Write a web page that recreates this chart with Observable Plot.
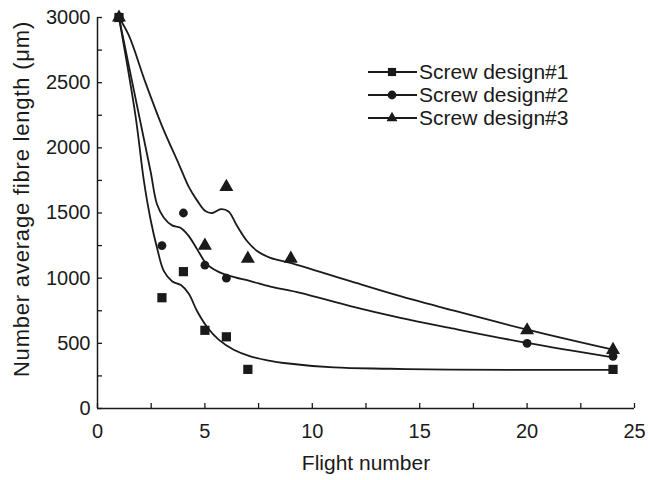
<!DOCTYPE html>
<html>
<head>
<meta charset="utf-8">
<script src="https://cdn.jsdelivr.net/npm/d3@7"></script>
<script src="https://cdn.jsdelivr.net/npm/@observablehq/plot@0.6"></script>
<style>
  body { margin: 0; background: #fff; }
  #chart { position: relative; width: 648px; height: 480px; font-family: "Liberation Sans", Arial, Helvetica, sans-serif; }
  #legend { position: absolute; left: 0; top: 0; pointer-events: none; }
</style>
</head>
<body>
<div id="chart"></div>
<script>
// ---- measured points ----
const flight1 = [1, 3, 4, 5, 6, 7, 24];
const design1 = [3000, 850, 1050, 600, 550, 300, 300];
const flight2 = [1, 3, 4, 5, 6, 20, 24];
const design2 = [3000, 1250, 1500, 1100, 1000, 500, 400];
const flight3 = [1, 5, 6, 7, 9, 20, 24];
const design3 = [3000, 1250, 1700, 1150, 1150, 600, 450];

// ---- fitted curves ----
const fitX1 = [1, 1.77, 2.16, 2.47, 2.77, 3.09, 3.47, 3.9, 4.25, 4.64, 5.1, 5.64, 6.34, 7.12, 8.05, 8.67, 11, 13.6, 16.4, 24];
const fitY1 = [3000, 2246, 1746, 1450, 1233, 1054, 977, 945, 880, 746, 625, 528, 451, 400, 365, 349, 315, 305, 298, 297];
const fitX2 = [1, 1.92, 2.47, 2.77, 3.09, 3.47, 3.86, 4.25, 4.64, 5.1, 5.57, 6.19, 7.12, 8.05, 9.44, 11.77, 14.1, 16.4, 20, 24];
const fitY2 = [3000, 2260, 1820, 1567, 1464, 1405, 1387, 1323, 1221, 1105, 1054, 1015, 977, 935, 887, 785, 695, 618, 503, 392];
const fitX3 = [1, 1.46, 2.23, 3.0, 3.8, 4.25, 4.64, 5.02, 5.35, 5.75, 6.1, 6.5, 6.96, 7.43, 8.05, 8.98, 11.77, 14.1, 16.4, 20, 24];
const fitY3 = [3000, 2862, 2502, 2169, 1870, 1700, 1595, 1515, 1500, 1530, 1512, 1400, 1285, 1208, 1156, 1118, 977, 862, 759, 605, 451];

const seriesNames = ["Screw design#1", "Screw design#2", "Screw design#3"];
const seriesSymbols = ["square", "circle", "triangle"];

const xTicks = [0, 2.5, 5, 7.5, 10, 12.5, 15, 17.5, 20, 22.5, 25];
const xLabeled = [0, 5, 10, 15, 20, 25];
const yTicks = [0, 250, 500, 750, 1000, 1250, 1500, 1750, 2000, 2250, 2500, 2750, 3000];
const yLabeled = [0, 500, 1000, 1500, 2000, 2500, 3000];

const xTitle = "Flight number";
const yTitle = "Number average fibre length (\u03bcm)";

const rows = (xs, ys) => xs.map((x, i) => ({x, y: ys[i]}));

const ink = "#1a1a1a";
const font = "'Liberation Sans', Arial, Helvetica, sans-serif";

const plot = Plot.plot({
  width: 648,
  height: 480,
  marginLeft: 97,
  marginRight: 14,
  marginTop: 17,
  marginBottom: 72,
  style: {fontFamily: font, fontSize: "20px", color: ink, background: "white", overflow: "visible"},
  x: {domain: [0, 25]},
  y: {domain: [0, 3000]},
  marks: [
    Plot.axisX(xTicks, {tickSize: -5, tickPadding: 20, strokeWidth: 1.3, label: null,
      tickFormat: d => xLabeled.includes(d) ? String(d) : ""}),
    Plot.axisY(yTicks, {tickSize: -5, tickPadding: 12, strokeWidth: 1.3, label: null,
      tickFormat: d => yLabeled.includes(d) ? String(d) : ""}),
    Plot.ruleX([0], {stroke: ink, strokeWidth: 1.5}),
    Plot.ruleY([0], {stroke: ink, strokeWidth: 1.5}),
    Plot.line(rows(fitX1, fitY1), {x: "x", y: "y", curve: "catmull-rom", stroke: ink, strokeWidth: 1.8}),
    Plot.line(rows(fitX2, fitY2), {x: "x", y: "y", curve: "catmull-rom", stroke: ink, strokeWidth: 1.8}),
    Plot.line(rows(fitX3, fitY3), {x: "x", y: "y", curve: "catmull-rom", stroke: ink, strokeWidth: 1.8}),
    Plot.dot(rows(flight1, design1), {x: "x", y: "y", symbol: "square", r: 5.2, fill: ink, stroke: "none"}),
    Plot.dot(rows(flight2, design2), {x: "x", y: "y", symbol: "circle", r: 4.4, fill: ink, stroke: "none"}),
    Plot.dot(rows(flight3, design3), {x: "x", y: "y", symbol: "triangle", r: 5.2, fill: ink, stroke: "none"}),
    Plot.text([xTitle], {frameAnchor: "bottom", dy: 61, fontSize: 21, fill: ink}),
    Plot.text([yTitle], {frameAnchor: "left", textAnchor: "middle", rotate: -90, dx: -76, dy: -14, fontSize: 22, fill: ink, style: "letter-spacing:0.8px"})
  ]
});

const chart = document.getElementById("chart");
chart.appendChild(plot);
d3.select(plot).selectAll("text").filter(function() { return this.textContent === yTitle; })
  .style("letter-spacing", "0.8px");

// ---- legend ----
const legend = d3.select(chart).append("svg")
  .attr("id", "legend").attr("width", 648).attr("height", 480);
const rowY = [72, 95, 118];
seriesNames.forEach((name, i) => {
  const g = legend.append("g").attr("transform", `translate(0,${rowY[i]})`);
  g.append("line").attr("x1", 368).attr("x2", 417).attr("y1", 0).attr("y2", 0)
    .attr("stroke", ink).attr("stroke-width", 1.8);
  const sym = seriesSymbols[i] === "square" ? d3.symbol(d3.symbolSquare2, Math.PI * 5.2 * 5.2)
    : seriesSymbols[i] === "circle" ? d3.symbol(d3.symbolCircle, Math.PI * 4.4 * 4.4)
    : d3.symbol(d3.symbolTriangle2, Math.PI * 5.2 * 5.2);
  g.append("path").attr("d", sym()).attr("transform", "translate(392,0)").attr("fill", ink);
  g.append("text").attr("x", 419).attr("y", 0).attr("dy", "0.35em")
    .attr("font-family", font).attr("font-size", 21).attr("fill", ink).text(name);
});
</script>
</body>
</html>
